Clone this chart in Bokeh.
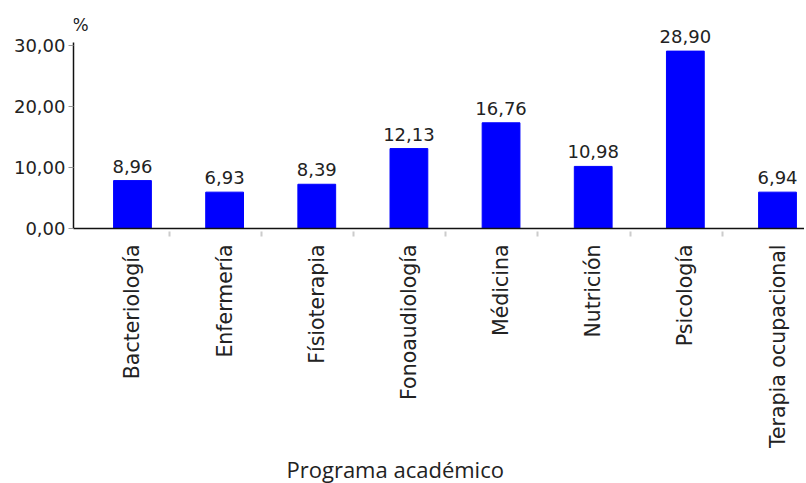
import math
from bokeh.plotting import figure
from bokeh.models import ColumnDataSource, Range1d, FixedTicker, Label, Title
from bokeh.core.properties import value
from bokeh.embed import file_html
from bokeh.resources import INLINE

# ---- data ----
programas = ["Bacteriología", "Enfermería", "Físioterapia", "Fonoaudiología",
             "Médicina", "Nutrición", "Psicología", "Terapia ocupacional"]
# bar heights as drawn in the picture (%)
alturas = [7.84, 5.95, 7.24, 13.08, 17.30, 10.16, 29.03, 5.95]
# value labels as printed above the bars
etiquetas = ["8,96", "6,93", "8,39", "12,13", "16,76", "10,98", "28,90", "6,94"]
y_ticks = [0, 10, 20, 30]
y_tick_labels = ["0,00", "10,00", "20,00", "30,00"]

xs = list(range(len(programas)))
src = ColumnDataSource(dict(x=xs, top=alturas, lab=etiquetas))

p = figure(width=804, height=483, output_backend="svg", toolbar_location=None,
           x_range=Range1d(-0.64, 7.293), y_range=Range1d(0, 34.86),
           min_border_left=73, min_border_right=0, min_border_top=15,
           min_border_bottom=253)
p.outline_line_color = None
p.grid.grid_line_color = None
p.background_fill_color = "white"
p.border_fill_color = "white"

p.vbar(x="x", top="top", width=0.41, bottom=0, source=src,
       fill_color="#0000FF", line_color="#0000FF")
p.text(x="x", y="top", text="lab", source=src, y_offset=-8,
       text_align="center", text_baseline="bottom",
       text_font=value("DejaVu Sans"), text_font_size="18px", text_color="#222222")

# y axis
ya = p.yaxis[0]
ya.bounds = (0, 30.5)
ya.ticker = FixedTicker(ticks=y_ticks)
ya.major_label_overrides = {t: l for t, l in zip(y_ticks, y_tick_labels)}
ya.major_label_text_font = "DejaVu Sans"
ya.major_label_text_font_size = "18px"
ya.major_label_text_color = "#222222"
ya.axis_line_color = "#111111"
ya.axis_line_width = 1.5
ya.major_tick_line_color = "#999999"
ya.major_tick_in = 0
ya.major_tick_out = 5
ya.minor_tick_line_color = None
ya.major_label_standoff = 3

# x axis
xa = p.xaxis[0]
xa.ticker = FixedTicker(ticks=xs, minor_ticks=[i + 0.4 for i in xs[:-1]])
xa.major_label_overrides = {i: n for i, n in enumerate(programas)}
xa.major_label_orientation = math.pi / 2
xa.major_label_text_font = "DejaVu Sans"
xa.major_label_text_font_size = "20.5px"
xa.major_label_text_color = "#222222"
xa.major_label_standoff = 8
xa.major_tick_line_color = None
xa.minor_tick_line_color = "#cccccc"
xa.minor_tick_line_width = 2
xa.minor_tick_in = -3
xa.minor_tick_out = 8
xa.axis_line_color = "#111111"
xa.axis_line_width = 1.5

# "%" unit label above the y axis
p.add_layout(Label(x=-0.65, y=31.6, text="%", text_align="left", text_baseline="bottom",
                   text_font="DejaVu Sans", text_font_size="17px", text_color="#222222"))
# x axis title
p.add_layout(Title(text="Programa académico", align="left", offset=213, standoff=0,
                   text_font="Open Sans", text_font_size="22px", text_font_style="normal",
                   text_color="#222222"), "below")

open("out.html", "w").write(file_html(p, INLINE))
